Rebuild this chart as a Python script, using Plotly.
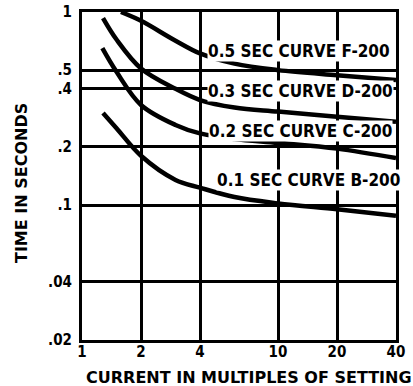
import plotly.graph_objects as go

# Curve data (current multiple, time in seconds)
f_x = [1.58, 2, 3, 4, 6, 10, 20, 40]
f_y = [1.0, 0.9, 0.71, 0.61, 0.54, 0.5, 0.47, 0.445]
d_x = [1.28, 1.5, 2, 3, 4, 6, 10, 20, 40]
d_y = [0.93, 0.72, 0.51, 0.4, 0.35, 0.32, 0.305, 0.287, 0.27]
c_x = [1.27, 1.5, 2, 3, 4, 6, 10, 20, 40]
c_y = [0.65, 0.49, 0.33, 0.26, 0.235, 0.22, 0.21, 0.196, 0.175]
b_x = [1.28, 1.5, 2, 3, 4, 6, 10, 20, 40]
b_y = [0.30, 0.25, 0.18, 0.135, 0.123, 0.11, 0.102, 0.095, 0.088]

curve_labels = ["0.5 SEC CURVE F-200", "0.3 SEC CURVE D-200",
                "0.2 SEC CURVE C-200", "0.1 SEC CURVE B-200"]

x_ticks = [1, 2, 4, 10, 20, 40]
x_tick_text = ["1", "2", "4", "10", "20", "40"]
y_ticks = [0.02, 0.04, 0.1, 0.2, 0.4, 0.5, 1]
y_tick_text = [".02", ".04", ".1", ".2", ".4", ".5", "1"]

FONT_C = "DejaVu Sans Condensed, DejaVu Sans, sans-serif"
FONT = "DejaVu Sans, sans-serif"

fig = go.Figure()
for xs, ys in [(f_x, f_y), (d_x, d_y), (c_x, c_y), (b_x, b_y)]:
    fig.add_trace(go.Scatter(x=xs, y=ys, mode="lines",
                             line=dict(color="black", width=4.5, shape="spline", smoothing=1.0),
                             showlegend=False, hoverinfo="skip"))

W, H = 413, 386
PL, PT, PR, PB = 82, 12, 396, 340  # plot area in page pixels
pw, ph = PR - PL, PB - PT
L, T = PL, PT
R, B = W - L - pw, H - T - ph

def px2paper(px, py):
    return (px - PL) / pw, (PB - py) / ph

label_pos = [(299, 51), (300, 91), (300, 131), (308, 180)]
for txt, (px, py) in zip(curve_labels, label_pos):
    ax, ay = px2paper(px, py)
    fig.add_annotation(x=ax, y=ay, xref="paper", yref="paper", text=txt,
                       xanchor="center", yanchor="middle",
                       showarrow=False, bgcolor="white", borderpad=0,
                       font=dict(family=FONT_C, size=17, color="black", weight="bold"))

tx, ty = px2paper(249, 377)
fig.add_annotation(x=tx, y=ty, xref="paper", yref="paper",
                   xanchor="center", yanchor="middle",
                   text="CURRENT IN MULTIPLES OF SETTING", showarrow=False,
                   font=dict(family=FONT, size=16, color="black", weight="bold"))
tx, ty = px2paper(21, 183)
fig.add_annotation(x=tx, y=ty, xref="paper", yref="paper",
                   xanchor="center", yanchor="middle",
                   text="TIME IN SECONDS", showarrow=False, textangle=-90,
                   font=dict(family=FONT, size=16, color="black", weight="bold"))

fig.update_xaxes(type="log", range=[0, 1.60206], tickvals=x_ticks, ticktext=x_tick_text,
                 showgrid=True, gridcolor="black", gridwidth=2.5,
                 showline=True, linecolor="black", linewidth=3, mirror=True,
                 ticks="", ticklabelstandoff=-4, zeroline=False,
                 tickfont=dict(family=FONT_C, size=15, color="black", weight="bold"))
fig.update_yaxes(type="log", range=[-1.69897, 0], tickvals=y_ticks, ticktext=y_tick_text,
                 showgrid=True, gridcolor="black", gridwidth=2.5,
                 showline=True, linecolor="black", linewidth=3, mirror=True,
                 ticks="", ticklabelstandoff=4, zeroline=False,
                 tickfont=dict(family=FONT_C, size=15, color="black", weight="bold"))

fig.update_layout(width=W, height=H, margin=dict(l=L, r=R, t=T, b=B, autoexpand=False),
                  paper_bgcolor="white", plot_bgcolor="white")

fig.write_html("out.html", config={"displayModeBar": False},
               post_script="document.body.style.margin='0px';")
